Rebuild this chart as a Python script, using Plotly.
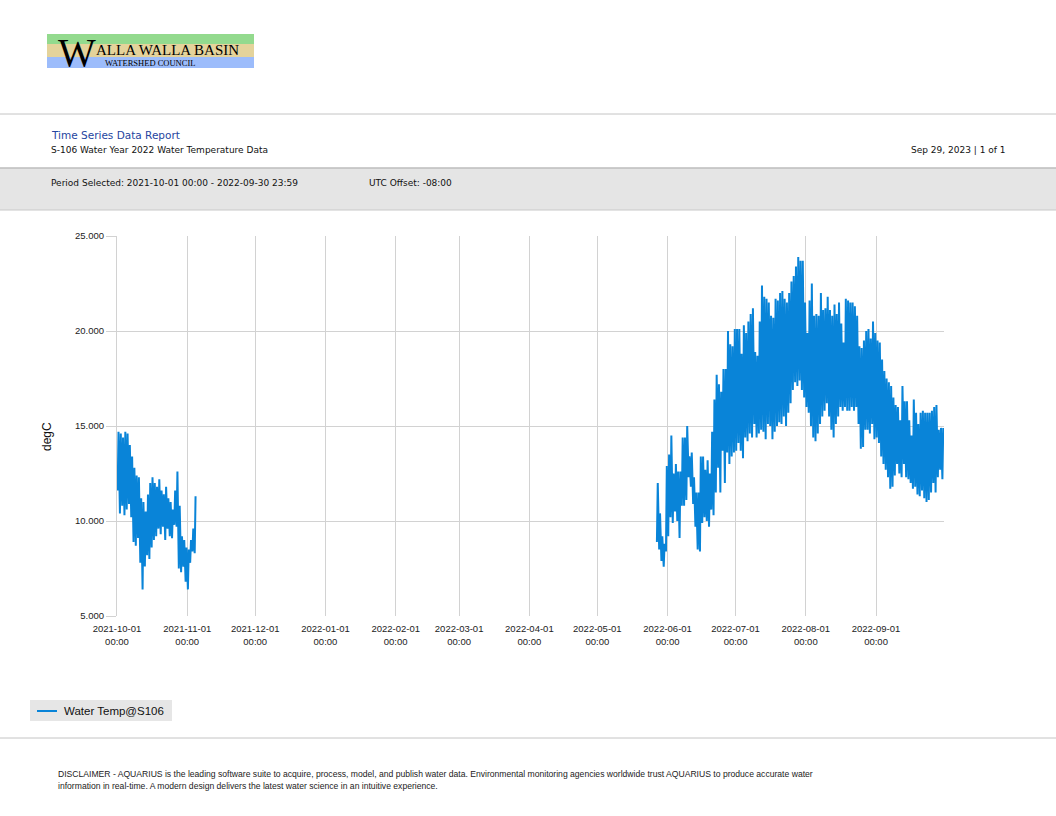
import pandas as pd
import plotly.graph_objects as go

# ---------------- data ----------------
oct_start = "2021-10-01"
oct_max = [14.7, 14.6, 14.4, 14.7, 14.6, 14.0, 13.4, 12.8, 12.4, 12.3, 11.2, 11.0, 10.5, 11.4,
           12.0, 12.3, 12.0, 11.8, 12.2, 11.6, 11.4, 11.8, 11.2, 11.0, 10.6, 11.6, 12.6, 10.8,
           9.2, 9.0, 8.6, 8.5, 9.0, 9.6, 11.3]
oct_min = [11.6, 10.4, 10.8, 10.3, 10.6, 10.9, 10.2, 8.9, 8.7, 9.1, 7.8, 6.4, 7.6, 8.2,
           8.0, 8.6, 9.0, 9.2, 9.6, 9.3, 9.7, 9.0, 9.6, 9.2, 9.1, 9.8, 9.7, 7.5,
           7.3, 7.6, 6.8, 6.4, 7.8, 8.4, 8.3]

summer_start = "2022-05-27"
summer_max = [12.0, 10.4, 9.2, 8.8, 12.9,
              13.5, 14.5, 12.5, 13.0, 12.6, 12.6, 14.4, 14.4, 15.0, 13.4, 13.6, 12.3, 11.5, 11.5, 13.4,
              13.4, 12.7, 13.2, 12.5, 14.7, 16.4, 17.7, 17.2, 16.8, 18.0, 18.0, 20.0, 19.3, 19.2, 20.1,
              20.1, 20.1, 18.8, 20.3, 19.9, 20.5, 20.9, 21.2, 18.9, 18.7, 20.5, 22.4, 21.8, 21.7, 21.5,
              20.8, 20.7, 21.7, 21.6, 22.0, 22.1, 21.7, 21.5, 22.0, 22.6, 22.9, 23.4, 23.9, 23.7, 23.7, 21.5,
              19.9, 21.6, 22.5, 20.8, 20.9, 20.8, 22.0, 21.1, 21.2, 21.8, 21.1, 20.8, 21.4, 20.9, 21.5,
              20.4, 19.4, 21.7, 21.6, 21.5, 21.5, 21.3, 20.8, 19.2, 19.1, 19.5, 20.0, 20.1, 19.6, 20.5, 19.9,
              19.5, 19.4, 18.5, 17.9, 17.5, 17.3, 17.1, 16.5, 16.1, 16.0, 15.3, 17.1, 16.3, 16.3, 15.3,
              14.5, 16.4, 15.7, 15.1, 15.7, 15.8, 15.7, 15.7, 15.7, 15.8, 16.0, 16.1, 14.8, 14.9, 14.9]
summer_min = [8.9, 8.5, 7.9, 7.6, 8.4,
              9.2, 10.2, 9.9, 10.5, 10.0, 9.1, 10.8, 10.8, 11.1, 12.3, 11.8, 10.9, 9.7, 8.5, 8.4,
              9.9, 10.2, 10.0, 9.7, 10.6, 10.3, 11.5, 12.8, 11.5, 13.7, 12.0, 13.6, 13.0, 13.4, 13.6,
              13.7, 14.1, 13.7, 13.3, 14.4, 14.2, 14.6, 14.4, 15.1, 14.4, 14.6, 14.8, 14.7, 14.3, 15.1,
              15.0, 14.3, 14.7, 15.0, 15.2, 15.1, 15.5, 15.0, 15.7, 16.2, 16.9, 17.3, 17.1, 17.4, 16.9, 16.5,
              16.0, 15.7, 15.0, 14.4, 14.2, 14.6, 15.1, 15.5, 15.8, 16.2, 15.5, 14.8, 14.4, 15.1, 15.5,
              16.0, 15.8, 16.0, 15.8, 15.8, 16.0, 15.8, 16.0, 15.1, 13.8, 13.9, 14.8, 14.8, 14.6, 15.1, 14.3,
              14.4, 14.1, 13.4, 13.0, 12.7, 12.3, 11.7, 11.8, 12.4, 13.0, 12.5, 12.3, 13.0, 12.3, 12.2,
              12.0, 11.7, 11.8, 11.4, 11.3, 11.6, 11.2, 11.0, 11.1, 11.5, 12.0, 11.5, 12.3, 12.7, 12.2]

tick_dates = ["2021-10-01", "2021-11-01", "2021-12-01", "2022-01-01", "2022-02-01", "2022-03-01",
              "2022-04-01", "2022-05-01", "2022-06-01", "2022-07-01", "2022-08-01", "2022-09-01"]
tick_labels = [d + "<br>00:00" for d in tick_dates]
y_ticks = [5, 10, 15, 20, 25]
series_name = "Water Temp@S106"
LINE_COLOR = "#0984d8"


def segment(start, maxs, mins):
    days = pd.date_range(start, periods=len(maxs), freq="D")
    xs, ys = [], []
    for d, lo, hi in zip(days, mins, maxs):
        xs += [d + pd.Timedelta(hours=7), d + pd.Timedelta(hours=16)]
        ys += [lo, hi]
    return xs, ys


x1, y1 = segment(oct_start, oct_max, oct_min)
x2, y2 = segment(summer_start, summer_max, summer_min)
xs = x1 + [None] + x2
ys = y1 + [None] + y2

# ---------------- figure ----------------
W, H = 1056, 816
L, R, T, B = 117, 944, 236, 616


def px(X):
    return (X - L) / (R - L)


def py(Y):
    return (B - Y) / (B - T)


fig = go.Figure()
fig.add_trace(go.Scatter(x=xs, y=ys, mode="lines", name=series_name,
                         line=dict(color=LINE_COLOR, width=2), connectgaps=False,
                         showlegend=False))

GRID = "#d2d2d2"
tickfont = dict(family="Liberation Sans", size=9.5, color="#222222")

fig.update_layout(
    width=W, height=H,
    margin=dict(l=L, r=W - R, t=T, b=H - B, pad=0),
    paper_bgcolor="white", plot_bgcolor="white",
    showlegend=False,
    xaxis=dict(range=["2021-10-01", "2022-10-01"], tickvals=tick_dates, ticktext=tick_labels,
               showgrid=True, gridcolor=GRID, gridwidth=1, zeroline=False, showline=False,
               ticks="outside", ticklen=4, tickcolor="rgba(0,0,0,0)", tickfont=tickfont, tickangle=0),
    yaxis=dict(range=[5, 25], tickvals=y_ticks, tickformat=".3f",
               showgrid=True, gridcolor=GRID, gridwidth=1, zeroline=False,
               showline=True, linecolor=GRID, linewidth=1,
               ticks="outside", ticklen=10, tickcolor=GRID, tickfont=tickfont),
)

shapes = []
annots = []

# logo bands
shapes.append(dict(type="rect", xref="paper", yref="paper", x0=px(47), x1=px(254), y0=py(34), y1=py(44),
                   fillcolor="#93da8e", line=dict(width=0), layer="below"))
shapes.append(dict(type="rect", xref="paper", yref="paper", x0=px(47), x1=px(254), y0=py(44), y1=py(57),
                   fillcolor="#e4d39b", line=dict(width=0), layer="below"))
shapes.append(dict(type="rect", xref="paper", yref="paper", x0=px(47), x1=px(254), y0=py(57), y1=py(68),
                   fillcolor="#9cbcfb", line=dict(width=0), layer="below"))
annots.append(dict(text="W", x=px(56), y=py(52), xanchor="left", yanchor="middle",
                   font=dict(family="Liberation Serif", size=40, color="black")))
annots.append(dict(text="ALLA WALLA BASIN", x=px(94), y=py(50), xanchor="left", yanchor="middle",
                   font=dict(family="Liberation Serif", size=15, color="black")))
annots.append(dict(text="WATERSHED COUNCIL", x=px(103), y=py(62.5), xanchor="left", yanchor="middle",
                   font=dict(family="Liberation Serif", size=8.5, color="black")))

# header lines and band
shapes.append(dict(type="line", xref="paper", yref="paper", x0=px(0), x1=px(W), y0=py(114), y1=py(114),
                   line=dict(color="#c4c4c4", width=1)))
shapes.append(dict(type="rect", xref="paper", yref="paper", x0=px(0), x1=px(W), y0=py(168), y1=py(210),
                   fillcolor="#e5e5e5", line=dict(width=0), layer="below"))
shapes.append(dict(type="line", xref="paper", yref="paper", x0=px(0), x1=px(W), y0=py(168), y1=py(168),
                   line=dict(color="#bdbdbd", width=1.5)))
shapes.append(dict(type="line", xref="paper", yref="paper", x0=px(0), x1=px(W), y0=py(210), y1=py(210),
                   line=dict(color="#c8c8c8", width=1)))
shapes.append(dict(type="line", xref="paper", yref="paper", x0=px(0), x1=px(W), y0=py(738), y1=py(738),
                   line=dict(color="#c4c4c4", width=1)))

hdr = "DejaVu Sans"
annots.append(dict(text="Time Series Data Report", x=px(49), y=py(135), xanchor="left", yanchor="middle",
                   font=dict(family=hdr, size=10.5, color="#2545a0")))
annots.append(dict(text="S-106 Water Year 2022 Water Temperature Data", x=px(49), y=py(150),
                   xanchor="left", yanchor="middle", font=dict(family=hdr, size=9, color="#111111")))
annots.append(dict(text="Sep 29, 2023 | 1 of 1", x=px(1008), y=py(150), xanchor="right", yanchor="middle",
                   font=dict(family=hdr, size=9, color="#111111")))
annots.append(dict(text="Period Selected: 2021-10-01 00:00 - 2022-09-30 23:59", x=px(49), y=py(183),
                   xanchor="left", yanchor="middle", font=dict(family=hdr, size=9, color="#111111")))
annots.append(dict(text="UTC Offset: -08:00", x=px(367), y=py(183), xanchor="left", yanchor="middle",
                   font=dict(family=hdr, size=9, color="#111111")))

# y axis title
annots.append(dict(text="degC", x=px(47), y=py(437), xanchor="center", yanchor="middle", textangle=-90,
                   font=dict(family="Liberation Sans", size=12, color="#111111")))

# legend box (drawn to match the report's compact legend)
shapes.append(dict(type="rect", xref="paper", yref="paper", x0=px(30), x1=px(172), y0=py(700), y1=py(721),
                   fillcolor="#e6e6e6", line=dict(width=0), layer="below"))
shapes.append(dict(type="line", xref="paper", yref="paper", x0=px(37), x1=px(57), y0=py(711), y1=py(711),
                   line=dict(color=LINE_COLOR, width=2)))
annots.append(dict(text=series_name, x=px(62), y=py(711), xanchor="left", yanchor="middle",
                   font=dict(family="Liberation Sans", size=11.5, color="#111111")))

# disclaimer
disc1 = ("DISCLAIMER - AQUARIUS is the leading software suite to acquire, process, model, and publish water "
         "data. Environmental monitoring agencies worldwide trust AQUARIUS to produce accurate water")
disc2 = "information in real-time. A modern design delivers the latest water science in an intuitive experience."
annots.append(dict(text=disc1, x=px(56), y=py(774), xanchor="left", yanchor="middle",
                   font=dict(family="Liberation Sans", size=8.6, color="#222222")))
annots.append(dict(text=disc2, x=px(56), y=py(786), xanchor="left", yanchor="middle",
                   font=dict(family="Liberation Sans", size=8.6, color="#222222")))

for a in annots:
    a.update(xref="paper", yref="paper", showarrow=False)

fig.update_layout(shapes=shapes, annotations=annots)

fig.write_html("out.html", config={"displayModeBar": False},
               post_script="document.body.style.margin='0';")
